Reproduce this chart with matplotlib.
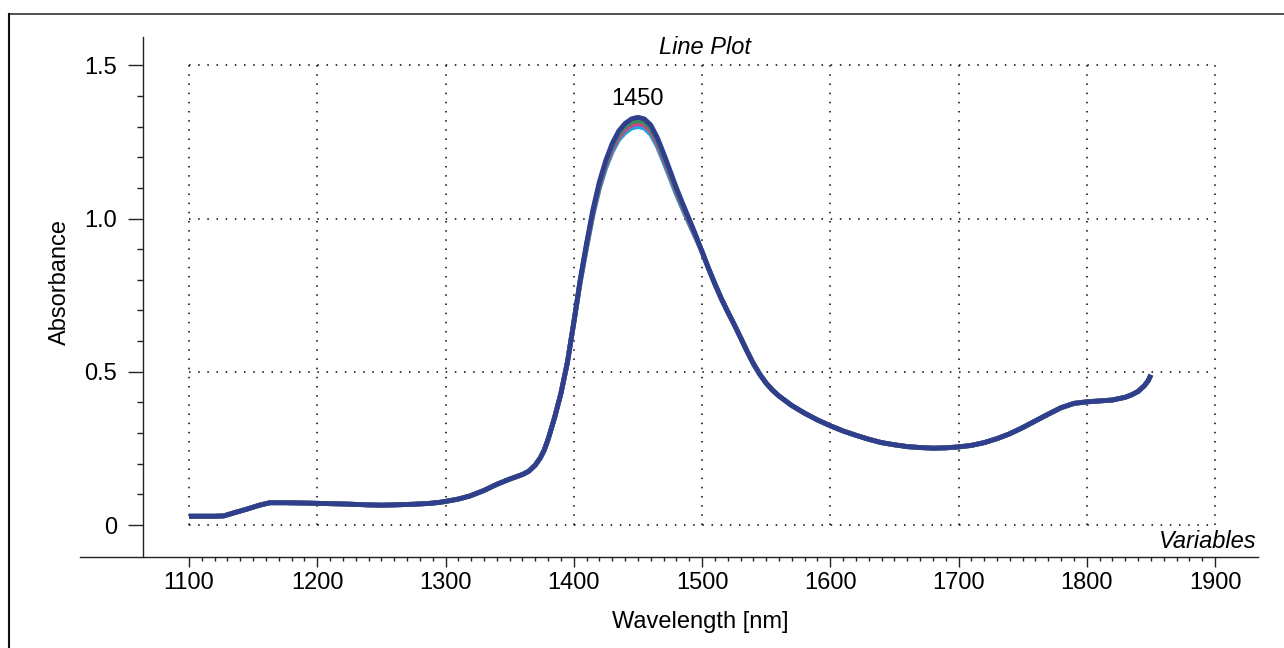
import numpy as np
import matplotlib.pyplot as plt
from matplotlib.lines import Line2D
from matplotlib.ticker import FixedLocator

plt.rcParams['font.family'] = ['Liberation Sans', 'DejaVu Sans']

# rising side, 1100-1400 nm (shared by all samples)
wl_base = [1100, 1110, 1120, 1127, 1135, 1145, 1155, 1163, 1175, 1190, 1200, 1220, 1240,
           1250, 1260, 1275, 1288, 1295, 1301, 1310, 1319, 1330, 1340, 1350, 1360, 1365,
           1370, 1374, 1377, 1380, 1385, 1390, 1395, 1400]
abs_base = [0.029, 0.029, 0.029, 0.030, 0.040, 0.052, 0.065, 0.073, 0.073, 0.072, 0.071,
            0.069, 0.066, 0.065, 0.066, 0.068, 0.071, 0.074, 0.078, 0.085, 0.095, 0.113,
            0.133, 0.150, 0.165, 0.176, 0.196, 0.220, 0.245, 0.280, 0.350, 0.430, 0.530,
            0.660]

# peak region, 1405-1495 nm (one list per sample)
wl_peak = [1405, 1410, 1415, 1420, 1425, 1430, 1435, 1440, 1445, 1450, 1455, 1460, 1465,
           1470, 1475, 1480, 1485, 1490, 1495]
peak_cyan = [0.791, 0.905, 1.012, 1.099, 1.166, 1.218, 1.257, 1.280, 1.295, 1.300, 1.295,
             1.275, 1.237, 1.186, 1.133, 1.079, 1.030, 0.983, 0.938]
peak_magenta = [0.794, 0.910, 1.018, 1.106, 1.174, 1.227, 1.266, 1.290, 1.305, 1.310, 1.305,
                1.285, 1.246, 1.195, 1.141, 1.086, 1.036, 0.988, 0.941]
peak_green = [0.797, 0.915, 1.024, 1.113, 1.182, 1.236, 1.276, 1.300, 1.315, 1.320, 1.315,
              1.295, 1.256, 1.204, 1.149, 1.093, 1.042, 0.993, 0.944]
peak_blue = [0.800, 0.920, 1.030, 1.120, 1.190, 1.245, 1.285, 1.310, 1.325, 1.330, 1.325,
             1.305, 1.265, 1.213, 1.157, 1.100, 1.048, 0.998, 0.947]

# falling side and tail, 1500-1850 nm (shared)
wl_tail = [1500, 1505, 1510, 1515, 1520, 1525, 1530, 1535, 1540, 1545, 1550, 1555, 1560,
           1570, 1580, 1590, 1600, 1610, 1620, 1630, 1640, 1650, 1660, 1670, 1680, 1690,
           1700, 1710, 1720, 1730, 1740, 1750, 1760, 1770, 1780, 1790, 1800, 1810, 1820,
           1830, 1835, 1840, 1845, 1848, 1850]
abs_tail = [0.892, 0.838, 0.787, 0.739, 0.696, 0.655, 0.612, 0.568, 0.527, 0.492, 0.463,
            0.440, 0.421, 0.390, 0.365, 0.343, 0.324, 0.307, 0.293, 0.280, 0.269, 0.262,
            0.256, 0.253, 0.251, 0.252, 0.255, 0.260, 0.269, 0.282, 0.298, 0.318, 0.340,
            0.362, 0.383, 0.397, 0.402, 0.405, 0.408, 0.417, 0.425, 0.436, 0.455, 0.472,
            0.490]

wavelength = wl_base + wl_peak + wl_tail
series = [
    (abs_base + peak_cyan + abs_tail, '#22a6dc'),
    (abs_base + peak_magenta + abs_tail, '#c8468c'),
    (abs_base + peak_green + abs_tail, '#3e8a5c'),
    (abs_base + peak_blue + abs_tail, '#2f3f8e'),
]

x_major = list(range(1100, 1901, 100))
x_minor = [v for v in range(1110, 1900, 10) if v % 100 != 0]
y_major = [0, 0.5, 1.0, 1.5]
y_major_labels = ['0', '0.5', '1.0', '1.5']
y_minor = [0.1, 0.2, 0.3, 0.4, 0.6, 0.7, 0.8, 0.9, 1.1, 1.2, 1.3, 1.4]

W, H = 1284, 648
fig = plt.figure(figsize=(W / 100, H / 100), dpi=100)
ax = fig.add_axes([80 / W, 1 - 557 / H, (1258 - 80) / W, (557 - 37) / H])

ax.set_xlim(1015, 1933.5)
ax.set_ylim(-0.104, 1.592)

# dotted grid box limited to the data range
for gx in x_major:
    ax.plot([gx, gx], [0, 1.5], color='black', linestyle=(0, (1, 5)), linewidth=1.1, zorder=1)
for gy in y_major:
    ax.plot([1100, 1900], [gy, gy], color='black', linestyle=(0, (1, 5)), linewidth=1.1, zorder=1)

for vals, col in series:
    ax.plot(wavelength, vals, color=col, linewidth=3.5, solid_capstyle='butt',
            solid_joinstyle='round', zorder=3)

ax.spines['top'].set_visible(False)
ax.spines['right'].set_visible(False)
ax.spines['left'].set_position(('data', 1064))
for s in ['left', 'bottom']:
    ax.spines[s].set_linewidth(1.0)
    ax.spines[s].set_color('#222222')

ax.set_xticks(x_major)
ax.xaxis.set_minor_locator(FixedLocator(x_minor))
ax.set_yticks(y_major)
ax.set_yticklabels(y_major_labels)
ax.yaxis.set_minor_locator(FixedLocator(y_minor))
ax.tick_params(axis='x', which='major', length=7.5, width=1.0, labelsize=17, color='#222222', pad=3)
ax.tick_params(axis='x', which='minor', length=3, width=1.0, color='#222222')
ax.tick_params(axis='y', which='major', length=10.5, width=1.0, labelsize=17, color='#222222', pad=8)
ax.tick_params(axis='y', which='minor', length=4.5, width=1.0, color='#222222')

ax.text(1450, 1.355, '1450', ha='center', va='bottom', fontsize=17)

fig.text(700 / W, 1 - 622 / H, 'Wavelength [nm]', ha='center', va='center', fontsize=17)
fig.text(60 / W, 1 - 282 / H, 'Absorbance', ha='center', va='center', rotation=90, fontsize=17)
fig.text(705 / W, 1 - 47 / H, 'Line Plot', ha='center', va='center', fontsize=17, style='italic')
fig.text(1257 / W, 1 - 542 / H, 'Variables', ha='right', va='center', fontsize=17, style='italic')

# figure frame (top and left edges)
fig.add_artist(Line2D([9 / W, 1], [1 - 14 / H, 1 - 14 / H], color='#333333', linewidth=1.2))
fig.add_artist(Line2D([9 / W, 9 / W], [0, 1 - 14 / H], color='#111111', linewidth=1.5))

fig.savefig('out.png', dpi=100)
